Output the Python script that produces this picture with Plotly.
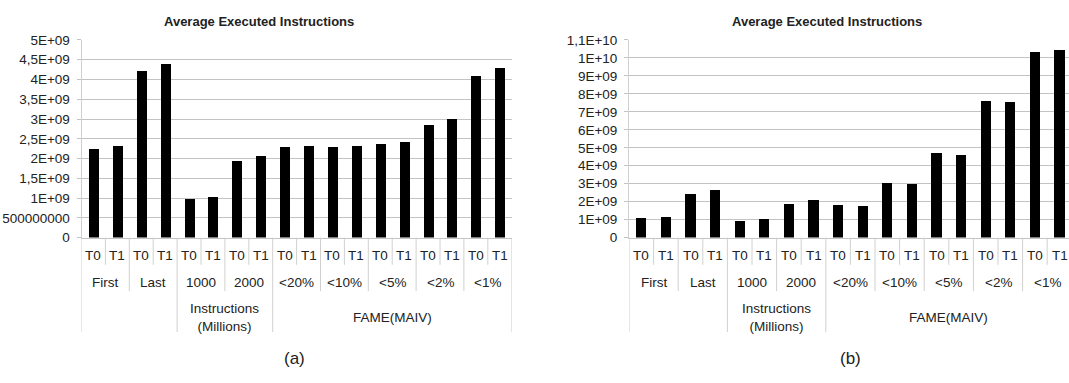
import plotly.graph_objects as go

# ---- data -------------------------------------------------------------
threads = ["T0", "T1"]
groups = ["First", "Last", "1000", "2000", "<20%", "<10%", "<5%", "<2%", "<1%"]
outer_labels = ["", "Instructions<br>(Millions)", "FAME(MAIV)"]
outer_sizes = [2, 2, 5]          # number of groups under each outer label

values_a = [2.25e9, 2.33e9, 4.22e9, 4.40e9, 0.97e9, 1.02e9, 1.93e9, 2.06e9,
            2.29e9, 2.31e9, 2.30e9, 2.33e9, 2.37e9, 2.42e9, 2.86e9, 2.99e9,
            4.10e9, 4.30e9]
values_b = [1.09e9, 1.16e9, 2.44e9, 2.64e9, 0.91e9, 1.03e9, 1.85e9, 2.09e9,
            1.84e9, 1.75e9, 3.03e9, 2.96e9, 4.69e9, 4.62e9, 7.63e9, 7.56e9,
            10.34e9, 10.43e9]

ticks_a = [0, 5e8, 1e9, 1.5e9, 2e9, 2.5e9, 3e9, 3.5e9, 4e9, 4.5e9, 5e9]
ticktext_a = ["0", "500000000", "1E+09", "1,5E+09", "2E+09", "2,5E+09",
              "3E+09", "3,5E+09", "4E+09", "4,5E+09", "5E+09"]
ticks_b = [0, 1e9, 2e9, 3e9, 4e9, 5e9, 6e9, 7e9, 8e9, 9e9, 1e10, 1.1e10]
ticktext_b = ["0", "1E+09", "2E+09", "3E+09", "4E+09", "5E+09", "6E+09",
              "7E+09", "8E+09", "9E+09", "1E+10", "1,1E+10"]

title_text = "Average Executed Instructions"
panel_tags = ["(a)", "(b)"]

# ---- geometry ---------------------------------------------------------
W, H = 1069, 383
FONT = "Liberation Sans, Arial, sans-serif"
TXT = "#222222"
GRID = "#c3c3c3"
SEP = "#d0d0d0"
FS = 13.5


def py(px):
    """pixel row -> paper y"""
    return 1 - px / H


def pxx(px):
    return px / W


axis_bottom = 240.0
axis_top = 34.3
row_y = [258.3, 286.7, 323.0]       # label rows under the axis
sep_end = [268.3, 295.7, 338.3]     # lengths of separator lines per level

n = len(groups) * len(threads)
x_idx = list(range(n))

fig = go.Figure()

panels = [
    dict(xa="x", ya="y", vals=values_a, ticks=ticks_a, tt=ticktext_a,
         ymax=5e9, left=81.5, right=511.7, xmax=17.5,
         title_x=259, tag_x=294),
    dict(xa="x2", ya="y2", vals=values_b, ticks=ticks_b, tt=ticktext_b,
         ymax=1.1e10, left=629.0, right=W, xmax=17.5 - (1071.8 - W) / 24.6,
         title_x=827, tag_x=850),
]


def label(x, y, text, xref, size=FS):
    return dict(x=x, y=y, xref=xref, yref="paper", text=text,
                showarrow=False, xanchor="center", yanchor="middle",
                font=dict(family=FONT, size=size, color=TXT))


shapes = []
annotations = []
for i, p in enumerate(panels):
    fig.add_trace(go.Bar(x=x_idx, y=p["vals"], width=0.42,
                         marker=dict(color="black", line=dict(width=0)),
                         xaxis=p["xa"], yaxis=p["ya"], showlegend=False))
    sfx = "" if i == 0 else str(i + 1)
    fig.update_layout({
        "xaxis" + sfx: dict(domain=[pxx(p["left"]), pxx(p["right"])],
                            range=[-0.5, p["xmax"]], anchor=p["ya"],
                            showticklabels=False, showgrid=False,
                            zeroline=False, showline=True, linecolor=GRID,
                            linewidth=1, ticks=""),
        "yaxis" + sfx: dict(domain=[py(axis_bottom), py(axis_top)],
                            range=[0, p["ymax"]], anchor=p["xa"],
                            tickvals=p["ticks"], ticktext=p["tt"],
                            showgrid=True, gridcolor=GRID, gridwidth=1,
                            zeroline=False, showline=True, linecolor=SEP,
                            ticks="outside", ticklen=4, tickcolor=GRID,
                            ticklabelstandoff=4,
                            tickfont=dict(family=FONT, size=FS, color=TXT)),
    })

    # separator lines of the three-level category axis
    outer_edges = [0]
    for s in outer_sizes:
        outer_edges.append(outer_edges[-1] + s * len(threads))
    for b in range(n + 1):
        if b in outer_edges:
            end = sep_end[2]
        elif b % len(threads) == 0:
            end = sep_end[1]
        else:
            end = sep_end[0]
        shapes.append(dict(type="line", xref=p["xa"], yref="paper",
                           x0=b - 0.5, x1=b - 0.5,
                           y0=py(axis_bottom), y1=py(end),
                           line=dict(color=SEP, width=1)))

    # level 1: thread labels
    for k in range(n):
        annotations.append(label(k, py(row_y[0]),
                                 threads[k % len(threads)], p["xa"]))
    # level 2: group labels
    for g, name in enumerate(groups):
        cx = g * len(threads) + (len(threads) - 1) / 2
        annotations.append(label(cx, py(row_y[1]), name, p["xa"]))
    # level 3: outer labels
    for o, name in enumerate(outer_labels):
        if not name:
            continue
        cx = (outer_edges[o] + outer_edges[o + 1] - 1) / 2
        annotations.append(label(cx, py(row_y[2]), name, p["xa"]))

    # chart title and panel tag
    annotations.append(label(pxx(p["title_x"]), py(15),
                             "<b>" + title_text + "</b>", "paper", size=13))
    annotations.append(label(pxx(p["tag_x"]), py(366), panel_tags[i],
                             "paper", size=17))

fig.update_layout(width=W, height=H, margin=dict(l=0, r=0, t=0, b=0),
                  paper_bgcolor="white", plot_bgcolor="white",
                  shapes=shapes, annotations=annotations, bargap=0)

fig.write_html("out.html")
